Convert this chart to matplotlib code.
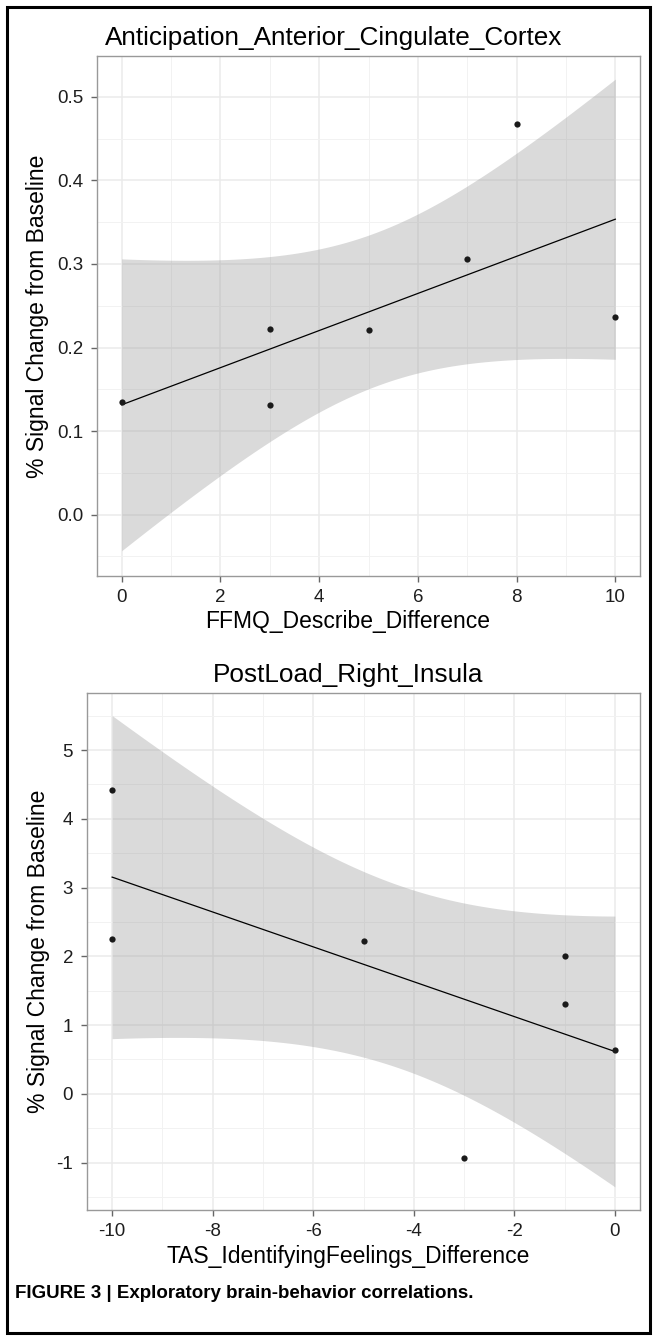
import matplotlib
matplotlib.use("Agg")
import matplotlib.pyplot as plt
from matplotlib.patches import Rectangle
from matplotlib.ticker import MultipleLocator, FormatStrFormatter
import numpy as np

plt.rcParams['font.family'] = ['Liberation Sans', 'DejaVu Sans']
plt.rcParams['axes.unicode_minus'] = False

# panel 1 data
acc_x = [0, 3, 3, 5, 7, 8, 10]
acc_y = [0.135, 0.222, 0.131, 0.221, 0.306, 0.468, 0.237]
# panel 2 data
ins_x = [-10, -10, -5, -3, -1, -1, 0]
ins_y = [4.42, 2.25, 2.22, -0.93, 2.01, 1.31, 0.64]

titles = ["Anticipation_Anterior_Cingulate_Cortex", "PostLoad_Right_Insula"]
xlabels = ["FFMQ_Describe_Difference", "TAS_IdentifyingFeelings_Difference"]
ylabel = "% Signal Change from Baseline"
caption = "FIGURE 3 | Exploratory brain-behavior correlations."

T975_DF5 = 2.570582  # t quantile for 95% CI, n=7


def lm_band(x, y, n=80):
	x = np.asarray(x, float)
	y = np.asarray(y, float)
	b, a = np.polyfit(x, y, 1)
	res = y - (a + b*x)
	s = np.sqrt(np.sum(res**2)/(len(x)-2))
	sxx = np.sum((x - x.mean())**2)
	xs = np.linspace(x.min(), x.max(), n)
	fit = a + b*xs
	se = s*np.sqrt(1.0/len(x) + (xs - x.mean())**2/sxx)
	return xs, fit, fit - T975_DF5*se, fit + T975_DF5*se


W, H = 657, 1338
fig = plt.figure(figsize=(W/100.0, H/100.0), dpi=100)


def fx(px):
	return px/float(W)


def fy(py):
	return 1 - py/float(H)


def px_axes(l, r, t, b):
	return fig.add_axes([fx(l), fy(b), (r-l)/float(W), (b-t)/float(H)])


def panel(ax, x, y, xlim, ylim, xmaj, ymaj, yfmt):
	xs, fit, lo, hi = lm_band(x, y)
	ax.fill_between(xs, lo, hi, color='#999999', alpha=0.36, lw=0, zorder=2)
	ax.plot(xs, fit, color='black', lw=0.9, zorder=3)
	ax.plot(x, y, 'o', color='#1a1a1a', ms=4.5, mec='none', zorder=4)
	ax.set_xlim(*xlim)
	ax.set_ylim(*ylim)
	ax.xaxis.set_major_locator(MultipleLocator(xmaj))
	ax.xaxis.set_minor_locator(MultipleLocator(xmaj/2.0))
	ax.yaxis.set_major_locator(MultipleLocator(ymaj))
	ax.yaxis.set_minor_locator(MultipleLocator(ymaj/2.0))
	ax.yaxis.set_major_formatter(FormatStrFormatter(yfmt))
	ax.grid(which='major', color='#ebebeb', lw=1.1, zorder=0)
	ax.grid(which='minor', color='#f2f2f2', lw=0.7, zorder=0)
	ax.set_axisbelow(True)
	for sp in ax.spines.values():
		sp.set_color('#999999')
		sp.set_linewidth(1.0)
	ax.tick_params(which='major', length=4.5, width=1, color='#666666',
		labelsize=13.5, labelcolor='#1e1e1e')
	ax.tick_params(axis='y', pad=5.5)
	ax.tick_params(axis='x', pad=5)
	ax.tick_params(which='minor', length=0)


ax1 = px_axes(97, 640, 56, 576)
panel(ax1, acc_x, acc_y, (-0.5, 10.5), (-0.0735, 0.549), 2, 0.1, '%.1f')
ax2 = px_axes(87, 640, 693, 1210)
panel(ax2, ins_x, ins_y, (-10.5, 0.5), (-1.69, 5.83), 2, 1, '%d')

fig.text(fx(334), fy(38), titles[0], ha='center', va='center', fontsize=18.8)
fig.text(fx(348), fy(675), titles[1], ha='center', va='center', fontsize=18.8)
fig.text(fx(348), fy(622), xlabels[0], ha='center', va='center', fontsize=16.5)
fig.text(fx(348), fy(1257), xlabels[1], ha='center', va='center', fontsize=16.5)
fig.text(fx(38), fy(316), ylabel, ha='center', va='center', rotation=90, fontsize=16.5)
fig.text(fx(39), fy(951), ylabel, ha='center', va='center', rotation=90, fontsize=16.5)

fig.text(fx(15), fy(1294), caption, ha='left', va='center',
	fontsize=13.5, fontweight='bold')

# outer frame
fig.patches.append(Rectangle((fx(7), fy(1333)), 643/float(W), 1326/float(H),
	transform=fig.transFigure, fill=False, edgecolor='black', lw=2.2))

fig.savefig('out.png', dpi=100)
